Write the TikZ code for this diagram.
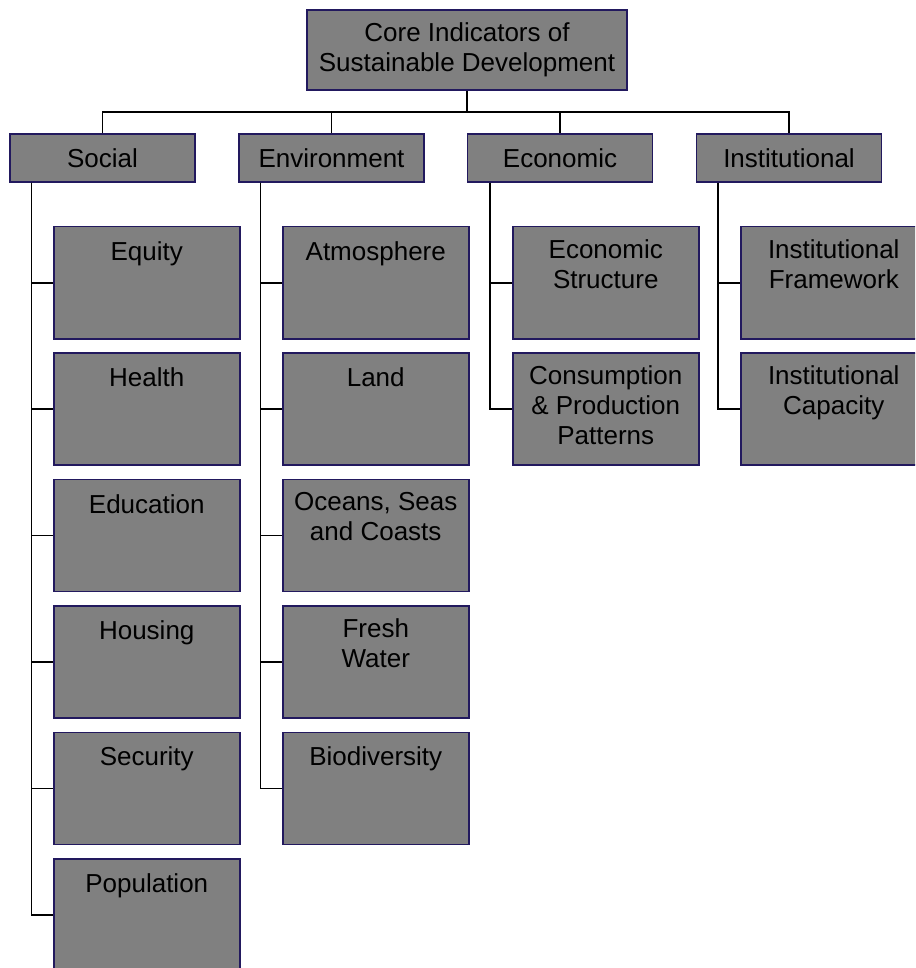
\documentclass[tikz,border=0pt]{standalone}
\usepackage{fontspec}
\setmainfont{Liberation Sans}
\usetikzlibrary{calc}
\definecolor{boxfill}{HTML}{808080}
\definecolor{boxline}{HTML}{22195E}
\tikzset{
  x=1pt, y=-1pt,
  box/.style={draw=boxline, fill=boxfill, line width=1.5pt, rectangle, inner sep=0pt,
    font=\fontsize{26}{30}\selectfont, align=center, text=black},
  rootbox/.style={box, minimum width=320pt, minimum height=80pt},
  headbox/.style={box, minimum width=185pt, minimum height=48pt},
  childbox/.style={box, minimum width=186pt, minimum height=112pt, anchor=north west},
  childtext/.style={anchor=north, font=\fontsize{26}{30}\selectfont, align=center,
    inner sep=0pt, text=black, execute at begin node=\strut},
  link/.style={draw=black, line width=1.5pt},
}
\begin{document}
\begin{tikzpicture}
\useasboundingbox (0,0) rectangle (915,968);
\clip (0,0) rectangle (915,968);

% root and category boxes
\node[rootbox] (root) at (467,50) {Core Indicators of\\Sustainable Development};
\node[headbox] (social) at (102.5,158) {Social};
\node[headbox] (env) at (331.5,158) {Environment};
\node[headbox] (econ) at (560,158) {Economic};
\node[headbox] (inst) at (789,158) {Institutional};

% bus linking the root to the categories
\coordinate (bus) at (467,112);
\draw[link] (root.south) -- (bus);
\draw[link] (social.north) |- (bus) -| (inst.north);
\draw[link] (env.north) -- (env.north |- bus);
\draw[link] (econ.north) -- (econ.north |- bus);

% spines below each category
\coordinate (social-sp) at ([xshift=22pt]social.south west);
\coordinate (env-sp) at ([xshift=22pt]env.south west);
\coordinate (econ-sp) at ([xshift=23pt]econ.south west);
\coordinate (inst-sp) at ([xshift=22pt]inst.south west);

% Social
\foreach \name/\txt [count=\i from 0] in {equity/Equity, health/Health, education/Education,
    housing/Housing, security/Security, population/Population} {
  \node[childbox] (\name) at (53,{226+126.4*\i}) {};
  \node[childtext] (\name-t) at ($(\name.north)+(0,13)$) {\txt};
  \draw[link] (social-sp) |- (\name.west);
}

% Environment
\foreach \name/\txt [count=\i from 0] in {atmos/Atmosphere, land/Land,
    oceans/{Oceans, Seas\\and Coasts}, water/{Fresh\\Water}, bio/Biodiversity} {
  \node[childbox] (\name) at (282,{226+126.4*\i}) {};
  \node[childtext] (\name-t) at ($(\name.north)+(0,13)$) {\txt};
  \draw[link] (env-sp) |- (\name.west);
}

% Economic
\foreach \name/\txt [count=\i from 0] in {structure/{Economic\\Structure},
    consumption/{Consumption\\\& Production\\Patterns}} {
  \node[childbox] (\name) at (512,{226+126.4*\i}) {};
  \node[childtext] (\name-t) at ($(\name.north)+(0,13)$) {\txt};
  \draw[link] (econ-sp) |- (\name.west);
}

% Institutional
\foreach \name/\txt [count=\i from 0] in {framework/{Institutional\\Framework},
    capacity/{Institutional\\Capacity}} {
  \node[childbox] (\name) at (740,{226+126.4*\i}) {};
  \node[childtext] (\name-t) at ($(\name.north)+(0,13)$) {\txt};
  \draw[link] (inst-sp) |- (\name.west);
}
\end{tikzpicture}
\end{document}
